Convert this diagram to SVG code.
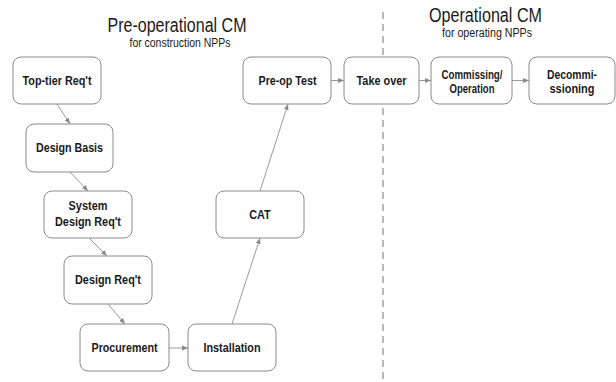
<svg xmlns="http://www.w3.org/2000/svg" width="616" height="382" viewBox="0 0 616 382">
  <style>
    .box{fill:#ffffff;stroke:#8a8a8a;stroke-width:1}
    .lbl{font-family:"Liberation Sans",Arial,sans-serif;font-weight:bold;font-size:12px;fill:#1a1a1a;text-anchor:middle}
    .title{font-family:"Liberation Sans",Arial,sans-serif;font-size:20px;fill:#1a1a1a;text-anchor:middle}
    .sub{font-family:"Liberation Sans",Arial,sans-serif;font-size:12.5px;fill:#1a1a1a;text-anchor:middle}
    .conn line{stroke:#9a9a9a;stroke-width:1;fill:none;marker-end:url(#ah)}
    .divider{stroke:#8c8c8c;stroke-width:1.2;stroke-dasharray:7,5}
  </style>
  <defs>
    <marker id="ah" viewBox="0 0 10 10" refX="10" refY="5" markerWidth="6" markerHeight="6" orient="auto" markerUnits="userSpaceOnUse">
      <path d="M0,1 L10,5 L0,9 z" fill="#8a8a8a"/>
    </marker>
  </defs>
  <rect width="616" height="382" fill="#ffffff"/>

  <line class="divider" x1="383" y1="12" x2="383" y2="382"/>

  <g id="titles">
    <text class="title" x="177" y="32" textLength="139" lengthAdjust="spacingAndGlyphs">Pre-operational CM</text>
    <text class="sub" x="180" y="47" textLength="101" lengthAdjust="spacingAndGlyphs">for construction NPPs</text>
    <text class="title" x="485.5" y="22" textLength="113" lengthAdjust="spacingAndGlyphs">Operational CM</text>
    <text class="sub" x="487" y="37" textLength="90" lengthAdjust="spacingAndGlyphs">for operating NPPs</text>
  </g>

  <g class="conn" id="connectors">
    <line x1="57" y1="104" x2="70" y2="124"/>
    <line x1="70" y1="172" x2="88" y2="191"/>
    <line x1="89" y1="238" x2="107" y2="256"/>
    <line x1="108" y1="304" x2="125" y2="324"/>
    <line x1="169" y1="348" x2="188" y2="348"/>
    <line x1="232" y1="324" x2="260" y2="238"/>
    <line x1="260" y1="191" x2="288" y2="104"/>
    <line x1="331" y1="80.5" x2="344" y2="80.5"/>
    <line x1="419" y1="80.5" x2="431" y2="80.5"/>
    <line x1="512" y1="80.5" x2="529" y2="80.5"/>
  </g>

  <g id="top-tier">
    <rect class="box" x="13" y="57" width="88" height="47" rx="8"/>
    <text class="lbl" x="57" y="84.5" textLength="69" lengthAdjust="spacingAndGlyphs">Top-tier Req't</text>
  </g>
  <g id="design-basis">
    <rect class="box" x="26" y="124" width="87" height="48" rx="8"/>
    <text class="lbl" x="69.5" y="152" textLength="67" lengthAdjust="spacingAndGlyphs">Design Basis</text>
  </g>
  <g id="system-design-req">
    <rect class="box" x="44" y="191" width="88" height="47" rx="8"/>
    <text class="lbl" x="88" y="210" textLength="39" lengthAdjust="spacingAndGlyphs">System</text>
    <text class="lbl" x="88" y="225.5" textLength="66" lengthAdjust="spacingAndGlyphs">Design Req't</text>
  </g>
  <g id="design-req">
    <rect class="box" x="64" y="256" width="88" height="48" rx="8"/>
    <text class="lbl" x="108" y="284" textLength="66" lengthAdjust="spacingAndGlyphs">Design Req't</text>
  </g>
  <g id="procurement">
    <rect class="box" x="80" y="324" width="89" height="47" rx="8"/>
    <text class="lbl" x="124.5" y="351.5" textLength="66" lengthAdjust="spacingAndGlyphs">Procurement</text>
  </g>
  <g id="installation">
    <rect class="box" x="188" y="324" width="88" height="47" rx="8"/>
    <text class="lbl" x="232" y="351.5" textLength="57" lengthAdjust="spacingAndGlyphs">Installation</text>
  </g>
  <g id="cat">
    <rect class="box" x="216" y="191" width="88" height="47" rx="8"/>
    <text class="lbl" x="260" y="218.5" textLength="21.5" lengthAdjust="spacingAndGlyphs">CAT</text>
  </g>
  <g id="pre-op-test">
    <rect class="box" x="243" y="57" width="88" height="47" rx="8"/>
    <text class="lbl" x="287.5" y="84.5" textLength="58" lengthAdjust="spacingAndGlyphs">Pre-op Test</text>
  </g>
  <g id="take-over">
    <rect class="box" x="344" y="57" width="75" height="47" rx="8"/>
    <text class="lbl" x="381.5" y="84.5" textLength="50" lengthAdjust="spacingAndGlyphs">Take over</text>
  </g>
  <g id="commissioning">
    <rect class="box" x="431" y="57" width="81" height="47" rx="8"/>
    <text class="lbl" x="472" y="78.5" textLength="61" lengthAdjust="spacingAndGlyphs">Commissing/</text>
    <text class="lbl" x="472" y="93" textLength="45" lengthAdjust="spacingAndGlyphs">Operation</text>
  </g>
  <g id="decommissioning">
    <rect class="box" x="529" y="57" width="86" height="47" rx="8"/>
    <text class="lbl" x="572" y="78.5" textLength="50" lengthAdjust="spacingAndGlyphs">Decommi-</text>
    <text class="lbl" x="572" y="93" textLength="45" lengthAdjust="spacingAndGlyphs">ssioning</text>
  </g>
</svg>
